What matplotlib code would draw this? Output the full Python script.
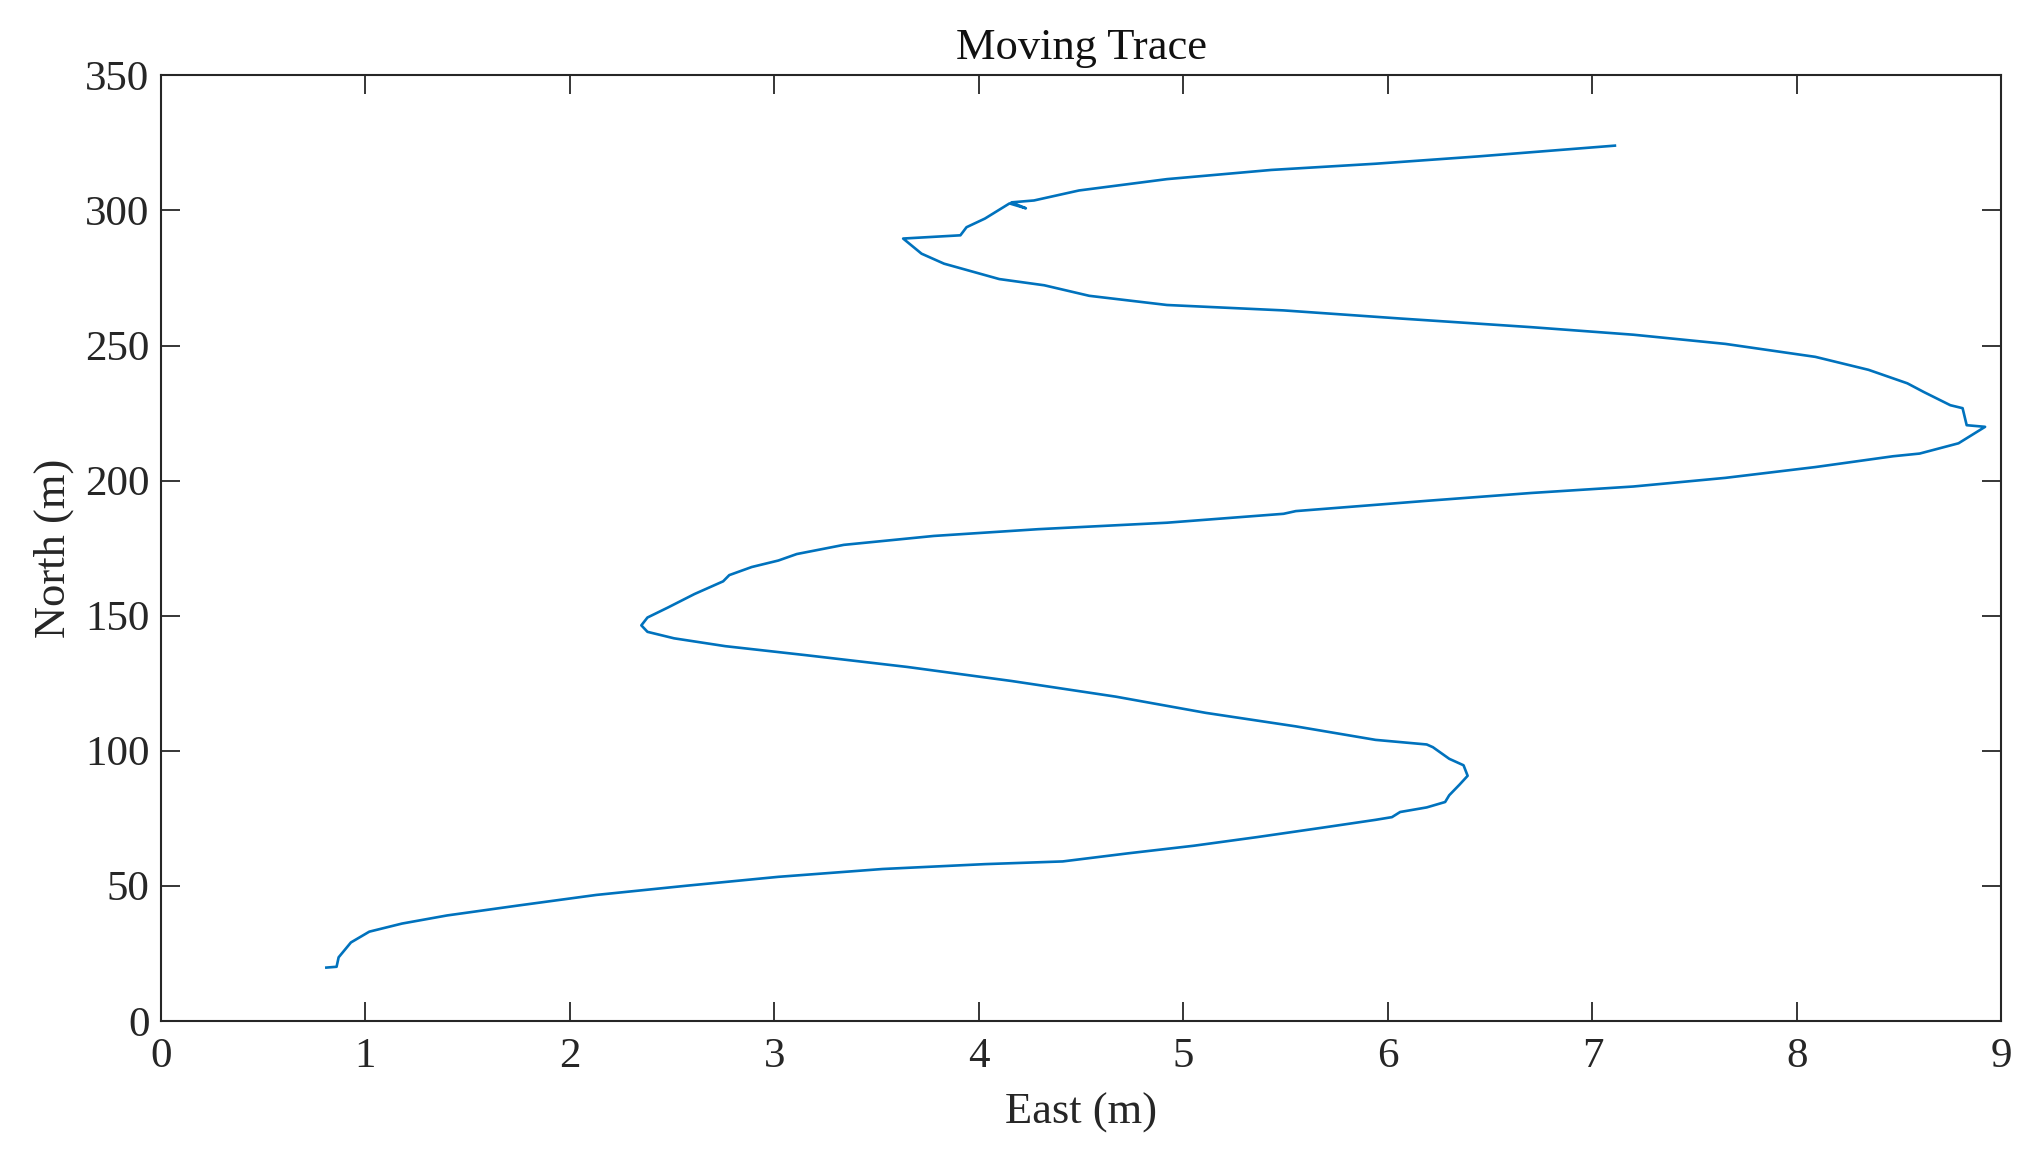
import numpy as np
import matplotlib.pyplot as plt

plt.rcParams['font.family'] = ['Liberation Serif', 'DejaVu Serif']

# trace (East, North in metres)
east = [0.81, 0.86, 0.87, 0.93, 1.02, 1.18, 1.40, 1.75, 2.13, 2.57, 3.02, 3.53, 4.03, 4.41,
        4.73, 5.05, 5.36, 5.68, 5.94, 6.02, 6.06, 6.19, 6.28, 6.30, 6.35, 6.39, 6.37, 6.30,
        6.22, 6.19, 5.94, 5.55, 5.11, 4.67, 4.16, 3.65, 3.15, 2.76, 2.51, 2.38, 2.35, 2.38,
        2.48, 2.61, 2.75, 2.78, 2.89, 3.02, 3.11, 3.34, 3.78, 4.29, 4.92, 5.49, 5.55, 6.19,
        6.70, 7.20, 7.65, 8.09, 8.47, 8.60, 8.79, 8.92, 8.83, 8.81, 8.75, 8.62, 8.54, 8.35,
        8.09, 7.65, 7.20, 6.70, 6.06, 5.49, 4.92, 4.54, 4.32, 4.10, 3.83, 3.72, 3.63, 3.91,
        3.94, 4.03, 4.15, 4.23, 4.16, 4.27, 4.49, 4.92, 5.43, 5.94, 6.44, 7.11]
north = [19.7, 20.0, 23.5, 29.0, 33.0, 36.0, 39.0, 42.7, 46.6, 50.0, 53.3, 56.2, 58.0, 59.0,
         62.0, 64.8, 68.0, 71.5, 74.4, 75.4, 77.3, 79.0, 81.0, 83.5, 87.4, 90.7, 94.6, 97.0,
         101.3, 102.3, 104.0, 109.0, 114.0, 120.0, 125.8, 131.0, 135.4, 138.7, 141.6, 144.0,
         146.4, 149.3, 153.0, 158.0, 162.7, 165.0, 168.0, 170.4, 172.8, 176.2, 179.5, 182.0,
         184.4, 187.7, 188.7, 192.5, 195.4, 197.8, 201.0, 205.0, 209.0, 210.0, 213.8, 219.9,
         220.5, 226.8, 227.9, 232.8, 236.0, 241.0, 245.8, 250.6, 254.0, 256.8, 260.0, 263.0,
         265.0, 268.4, 272.3, 274.6, 280.3, 284.0, 289.6, 290.8, 293.8, 297.0, 302.6, 300.8,
         303.0, 303.7, 307.4, 311.6, 315.0, 317.3, 320.0, 324.0]

fig = plt.figure(figsize=(20.34, 11.6), dpi=100)
ax = fig.add_axes([0.079, 0.12, 0.905, 0.815])

ax.plot(east, north, color='#0072BD', lw=1.9)

ax.set_xlim(0, 9)
ax.set_ylim(0, 350)
ax.set_xticks(np.arange(0, 10, 1))
ax.set_yticks(np.arange(0, 351, 50))
ax.tick_params(direction='in', length=14, width=1.3, colors='#262626',
               labelsize=31, top=True, right=True)
ax.tick_params(axis='x', pad=12)
ax.tick_params(axis='y', pad=8)
for s in ax.spines.values():
    s.set_color('#262626')
    s.set_linewidth(1.5)

ax.set_title('Moving Trace', fontsize=32, color='#111111', pad=12)
ax.set_xlabel('East (m)', fontsize=32, color='#262626', labelpad=12)
ax.set_ylabel('North (m)', fontsize=32, color='#262626', labelpad=8)

fig.savefig('out.png', dpi=100)
